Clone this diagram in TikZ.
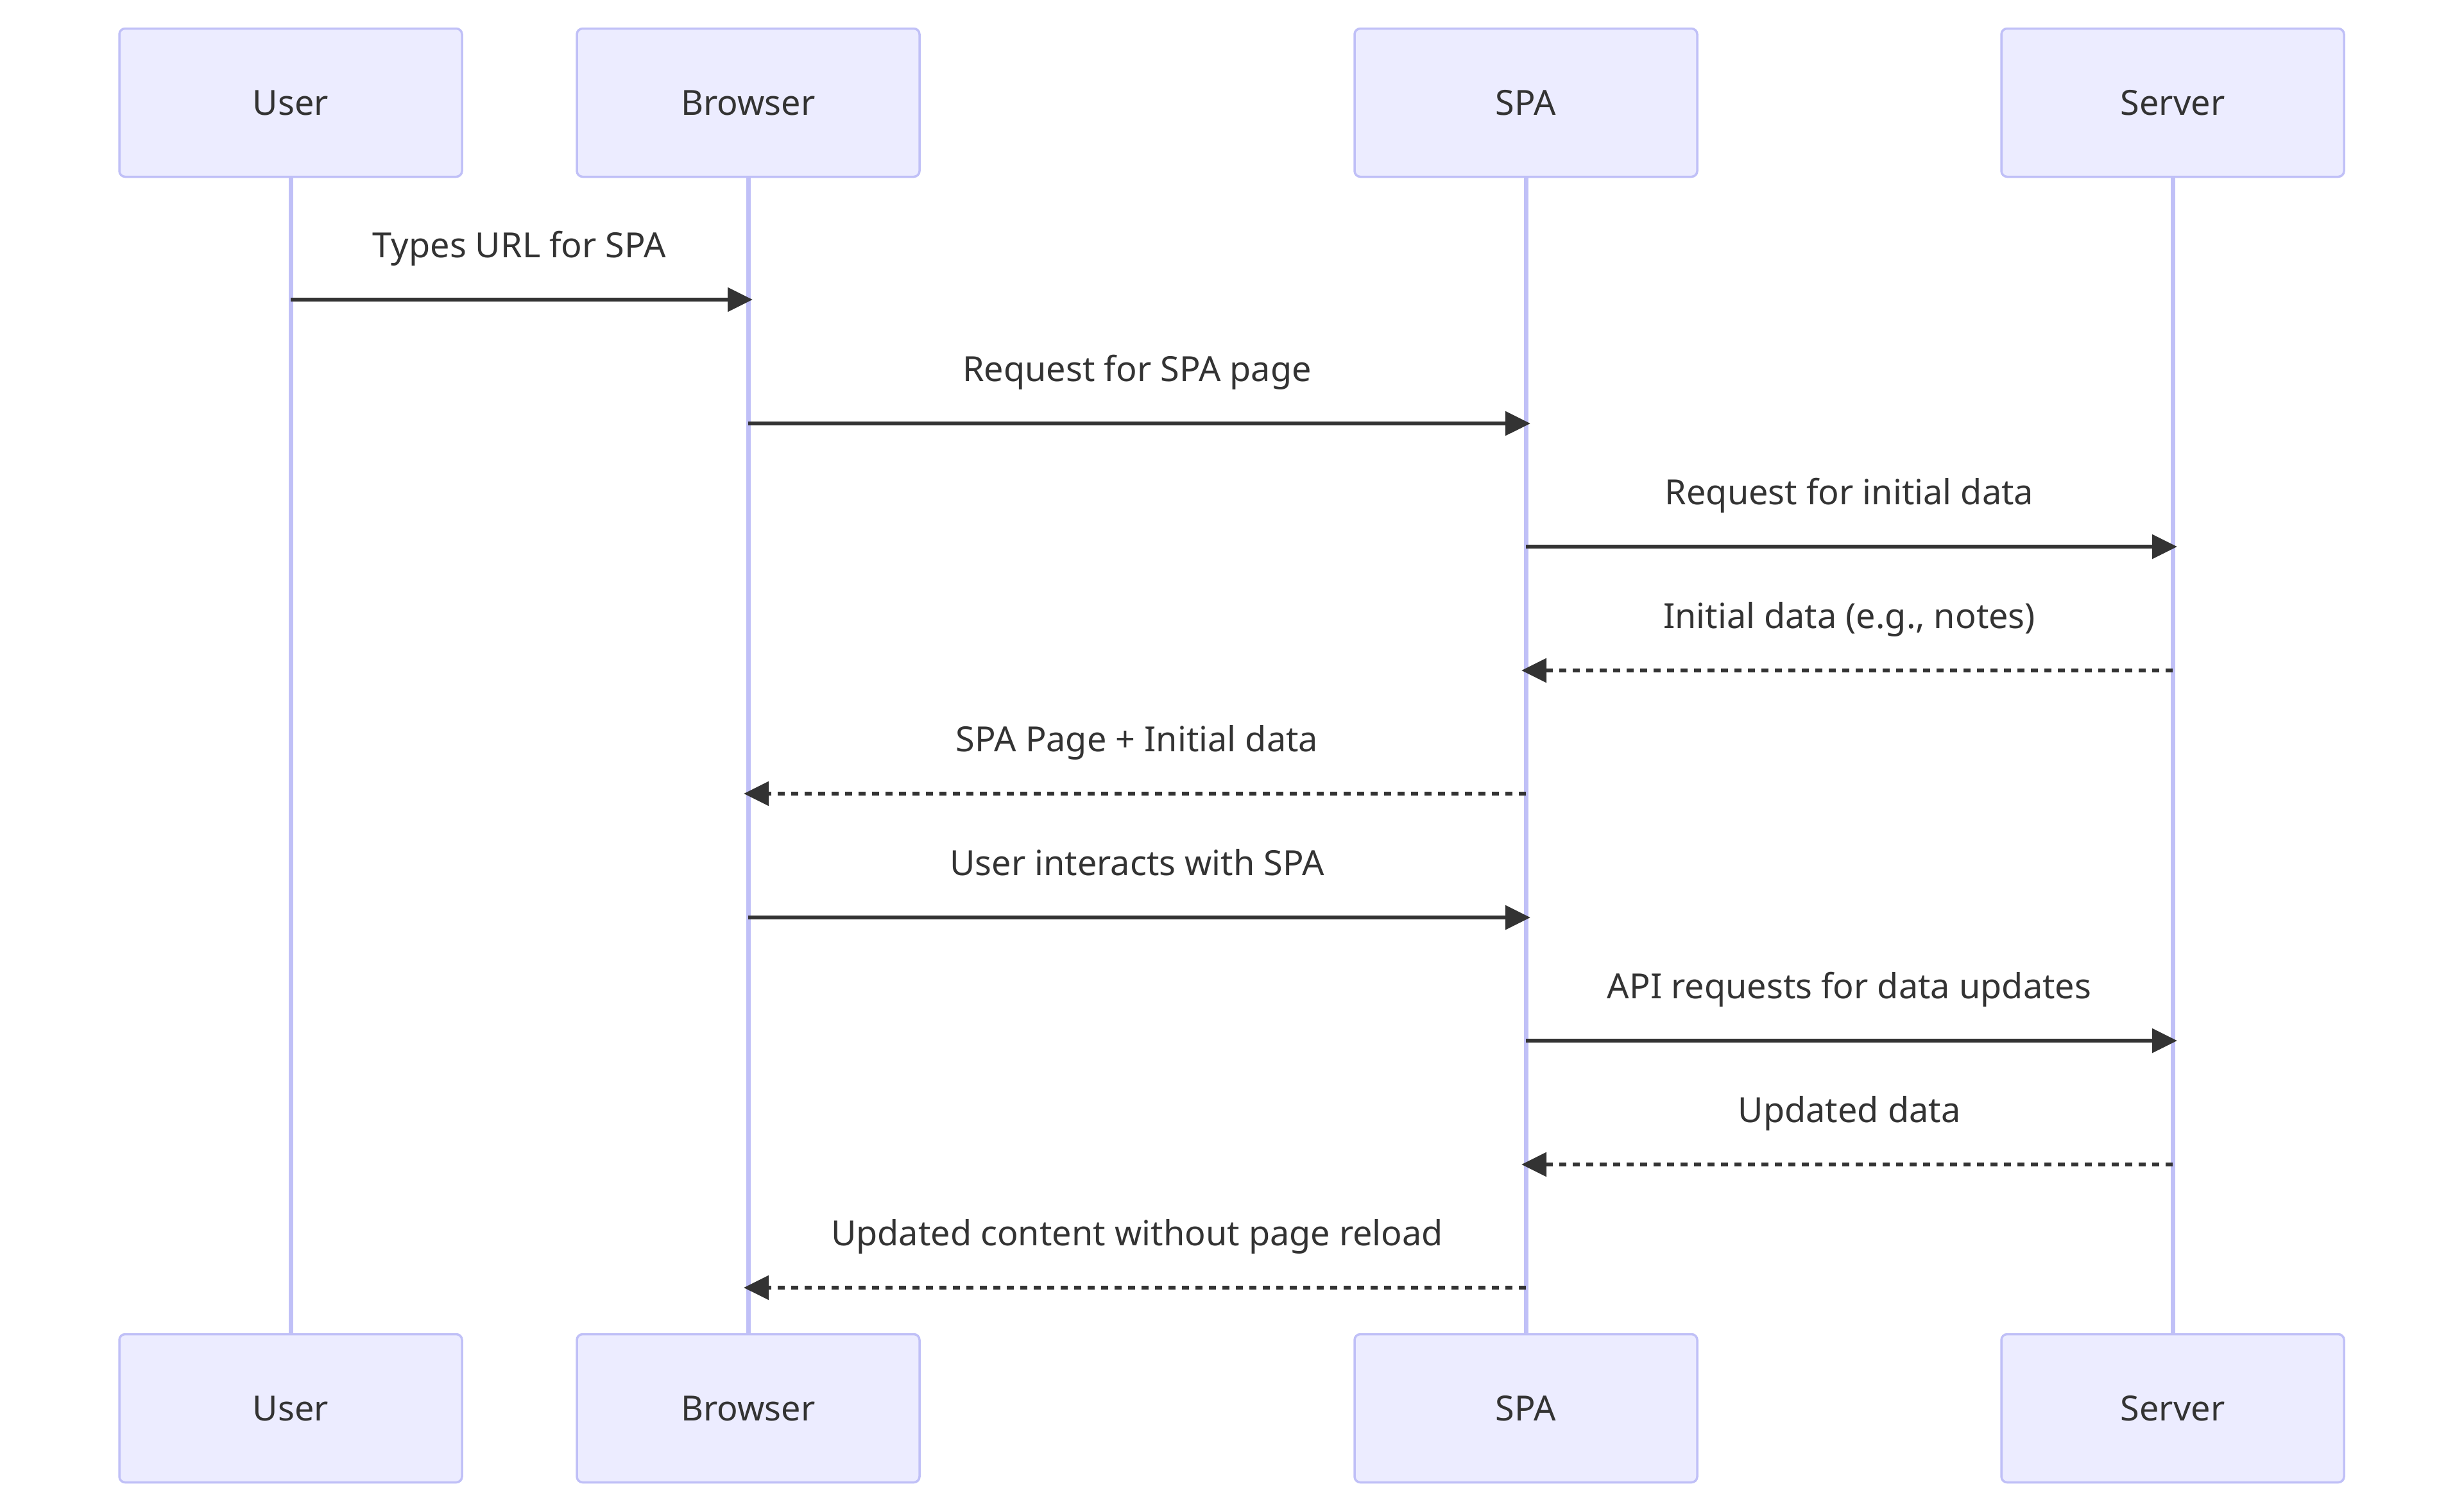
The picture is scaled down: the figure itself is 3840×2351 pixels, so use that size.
\documentclass[tikz,border=0pt]{standalone}
\usepackage{fontspec}
\setmainfont{Noto Sans}
\usetikzlibrary{arrows.meta}
\definecolor{actfill}{HTML}{ECECFF}
\definecolor{actline}{HTML}{C0C0F7}
\definecolor{txt}{HTML}{333333}
\begin{document}
\begin{tikzpicture}[x=1pt,y=-1pt,
  actor/.style={draw=actline, fill=actfill, line width=3.5pt, rounded corners=9pt,
    minimum width=534pt, minimum height=231pt, inner sep=0pt, text=txt,
    font=\fontsize{54}{62}\selectfont},
  life/.style={draw=actline, line width=7pt},
  msg/.style={draw=txt, line width=6pt, -{Triangle[length=39pt,width=37pt]}, shorten >=-7pt},
  reply/.style={msg, dash pattern=on 11pt off 10pt},
  lbl/.style={anchor=base, text=txt, inner sep=0pt, font=\fontsize{54}{62}\selectfont}]
\useasboundingbox (0,0) rectangle (3840,2351);
% lifelines
\coordinate (uL) at (453,275);
\coordinate (bL) at (1166,275);
\coordinate (sL) at (2378,275);
\coordinate (vL) at (3386,275);
\coordinate (uE) at (453,2079);
\coordinate (bE) at (1166,2079);
\coordinate (sE) at (2378,2079);
\coordinate (vE) at (3386,2079);
\draw[life] (uL) -- (uE);
\draw[life] (bL) -- (bE);
\draw[life] (sL) -- (sE);
\draw[life] (vL) -- (vE);
% actors
\node[actor] (uT) at (453,160) {User};
\node[actor] (bT) at (1166,160) {Browser};
\node[actor] (sT) at (2378,160) {SPA};
\node[actor] (vT) at (3386,160) {Server};
\node[actor] (uB) at (453,2195) {User};
\node[actor] (bB) at (1166,2195) {Browser};
\node[actor] (sB) at (2378,2195) {SPA};
\node[actor] (vB) at (3386,2195) {Server};
% messages
\draw[msg] (uT |- 0,467) -- (bT |- 0,467);
\node[lbl] (l1) at (809.5,401) {Types URL for SPA};
\draw[msg] (bT |- 0,660) -- (sT |- 0,660);
\node[lbl] (l2) at (1772,594) {Request for SPA page};
\draw[msg] (sT |- 0,852) -- (vT |- 0,852);
\node[lbl] (l3) at (2882,786) {Request for initial data};
\draw[reply] (vT |- 0,1045) -- (sT |- 0,1045);
\node[lbl] (l4) at (2882,979) {Initial data (e.g., notes)};
\draw[reply] (sT |- 0,1237) -- (bT |- 0,1237);
\node[lbl] (l5) at (1772,1171) {SPA Page + Initial data};
\draw[msg] (bT |- 0,1430) -- (sT |- 0,1430);
\node[lbl] (l6) at (1772,1364) {User interacts with SPA};
\draw[msg] (sT |- 0,1622) -- (vT |- 0,1622);
\node[lbl] (l7) at (2882,1556) {API requests for data updates};
\draw[reply] (vT |- 0,1815) -- (sT |- 0,1815);
\node[lbl] (l8) at (2882,1749) {Updated data};
\draw[reply] (sT |- 0,2007) -- (bT |- 0,2007);
\node[lbl] (l9) at (1772,1941) {Updated content without page reload};
\end{tikzpicture}
\end{document}
